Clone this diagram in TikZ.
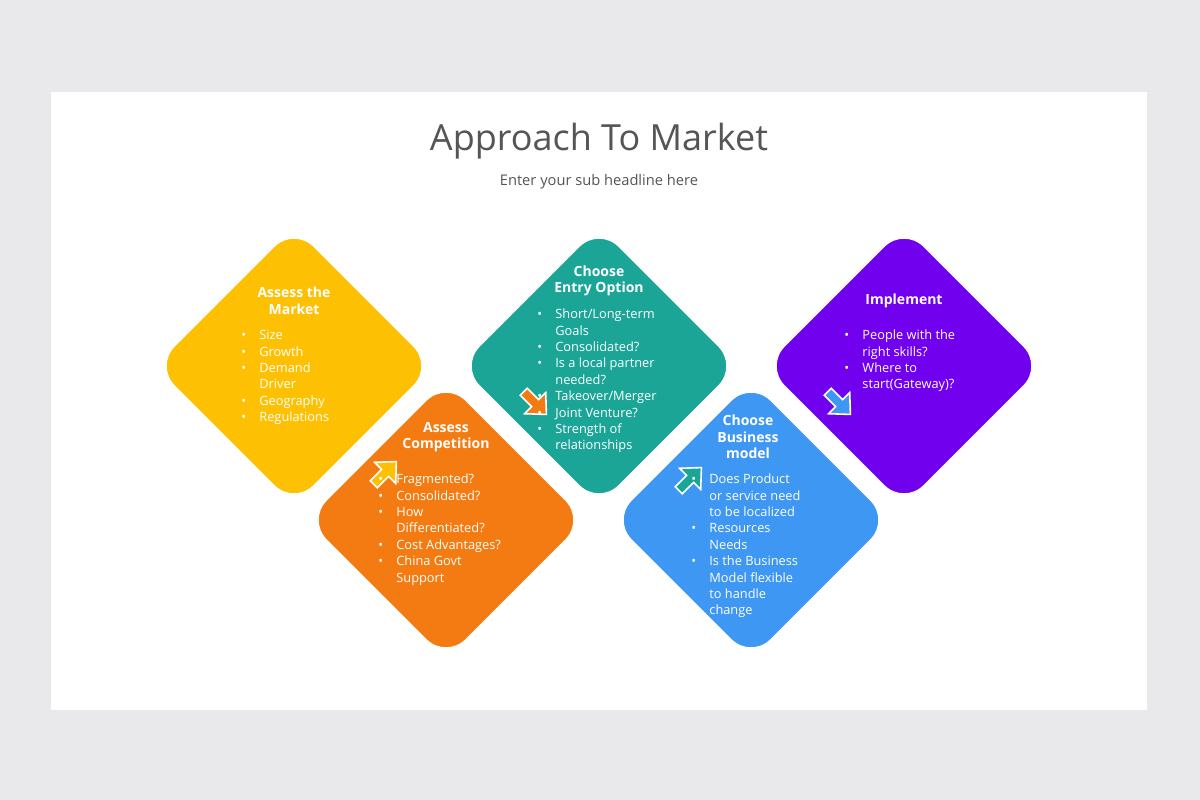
\documentclass[tikz,border=0pt]{standalone}
\usepackage{fontspec}
\setmainfont{Open Sans}
\begin{document}
\begin{tikzpicture}[x=0.75pt,y=-0.75pt,
  dia/.style={draw=white,line width=3pt,fill=#1,rounded corners=22pt,rotate=45,minimum size=150pt,inner sep=0pt},
  ttl/.style={text=white,font=\bfseries\fontsize{10.5}{12.5}\selectfont,align=center,anchor=center},
  lst/.style={text=white,font=\fontsize{9.6}{12.3}\selectfont,anchor=north west,inner sep=0pt},
  arr/.style={fill=#1,draw=white,line width=1.2pt}]
\definecolor{cy}{HTML}{FDC003}\definecolor{co}{HTML}{F47B12}
\definecolor{ct}{HTML}{1BA597}\definecolor{cb}{HTML}{3E97F2}
\definecolor{cp}{HTML}{7000EE}\definecolor{tg}{HTML}{555555}
\definecolor{bgc}{HTML}{E9E8EA}
\fill[bgc] (0,0) rectangle (1200,800);
\fill[white] (51,92) rectangle (1147,710);
\useasboundingbox (0,0) rectangle (1200,800);
\node[text=tg,font=\fontsize{27}{30}\selectfont] (title) at (599,141) {Approach To Market};
\node[text=tg,font=\fontsize{11}{13}\selectfont] (sub) at (599,182) {Enter your sub headline here};
\node[dia=cy] (d1) at (294,366) {};
\node[dia=ct] (d3) at (599,366) {};
\node[dia=cp] (d5) at (904,366) {};
\node[dia=co] (d2) at (446,520) {};
\node[dia=cb] (d4) at (751,520) {};
\def\blk#1#2#3{\begin{scope}[shift={(#1)},rotate=#2]
  \path[arr=#3] (-30,-5)--(-14,-5)--(-14,-15)--(2,0)--(-14,15)--(-14,5)--(-30,5)--cycle;\end{scope}}
\blk{395,463}{45}{cy}
\blk{545,413}{-45}{co}
\blk{700,469}{45}{ct}
\blk{849,413}{-45}{cb}
\newcommand\bl{\textbullet}
\node[ttl] (t1) at (294,301) {Assess the\\Market};
\node[lst] (l1) at (241,328) {\begin{tabular}{@{}l@{\hspace{10pt}}l@{}}\bl&Size\\\bl&Growth\\\bl&Demand\\&Driver\\\bl&Geography\\\bl&Regulations\end{tabular}};
\node[ttl] (t2) at (446,437) {Assess\\Competition};
\node[lst] (l2) at (378,472) {\begin{tabular}{@{}l@{\hspace{10pt}}l@{}}\bl&Fragmented?\\\bl&Consolidated?\\\bl&How\\&Differentiated?\\\bl&Cost Advantages?\\\bl&China Govt\\&Support\end{tabular}};
\node[ttl] (t3) at (599,281) {Choose\\Entry Option};
\node[lst] (l3) at (537,307) {\begin{tabular}{@{}l@{\hspace{10pt}}l@{}}\bl&Short/Long-term\\&Goals\\\bl&Consolidated?\\\bl&Is a local partner\\&needed?\\\bl&Takeover/Merger\\\bl&Joint Venture?\\\bl&Strength of\\&relationships\end{tabular}};
\node[ttl] (t4) at (748,437) {Choose\\Business\\model};
\node[lst] (l4) at (691,472) {\begin{tabular}{@{}l@{\hspace{10pt}}l@{}}\bl&Does Product\\&or service need\\&to be localized\\\bl&Resources\\&Needs\\\bl&Is the Business\\&Model flexible\\&to handle\\&change\end{tabular}};
\node[ttl] (t5) at (904,301) {Implement};
\node[lst] (l5) at (844,328) {\begin{tabular}{@{}l@{\hspace{10pt}}l@{}}\bl&People with the\\&right skills?\\\bl&Where to\\&start(Gateway)?\end{tabular}};
\end{tikzpicture}
\end{document}
